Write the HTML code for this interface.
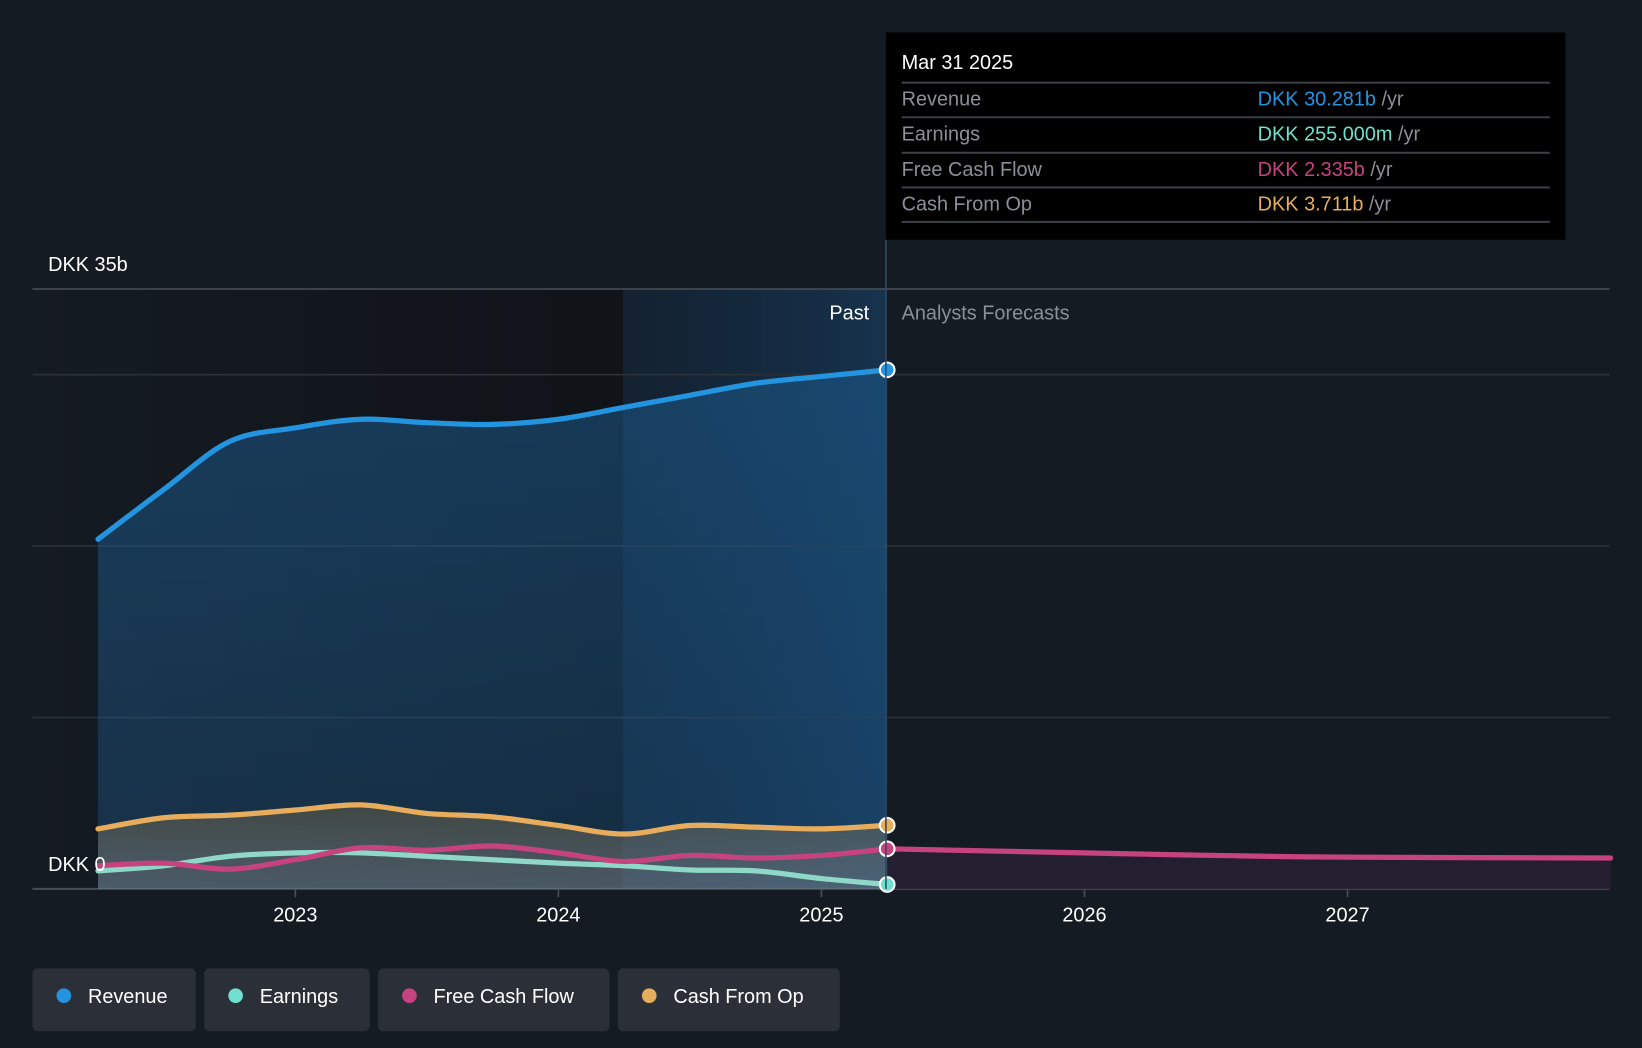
<!DOCTYPE html>
<html><head><meta charset="utf-8"><style>
html,body{margin:0;padding:0;background:#151b23;}
svg{display:block;font-family:"Liberation Sans",sans-serif;}
</style></head><body>
<svg id="chart" width="1642" height="1048" viewBox="0 0 1568 1001" preserveAspectRatio="none">
<defs>
<linearGradient id="pastGrad" x1="0" x2="1" y1="0" y2="0"><stop offset="0" stop-color="#13263a" stop-opacity="0.6"/><stop offset="1" stop-color="#163552" stop-opacity="0.9"/></linearGradient>
<linearGradient id="darkGrad" x1="0" x2="1" y1="0" y2="0"><stop offset="0" stop-color="#151b23"/><stop offset="1" stop-color="#101318"/></linearGradient>
<linearGradient id="revGrad" x1="0" x2="0" y1="0" y2="1"><stop offset="0" stop-color="#1c5a8c" stop-opacity="0.55"/><stop offset="1" stop-color="#1c5a8c" stop-opacity="0.35"/></linearGradient>
<linearGradient id="cfoGrad" x1="0" x2="0" y1="0" y2="1"><stop offset="0" stop-color="#6b6040" stop-opacity="0.5"/><stop offset="1" stop-color="#999" stop-opacity="0.4"/></linearGradient>
</defs>
<rect x="0" y="0" width="1568" height="1001" fill="#151b23"/>
<rect x="31" y="276" width="564" height="573" fill="url(#darkGrad)"/>
<rect x="595" y="276" width="251" height="573" fill="url(#pastGrad)"/>
<g id="grid"></g>
<g id="series"></g>
<line x1="846" y1="229" x2="846" y2="849" stroke="#2d4a66" stroke-width="1.5"/>
<text x="46" y="259" fill="#fff" font-size="19">DKK 35b</text>
<text x="46" y="832" fill="#fff" font-size="19">DKK 0</text>
<text x="830" y="305" fill="#fff" font-size="19" text-anchor="end">Past</text>
<text x="861" y="305" fill="#8a8f98" font-size="19">Analysts Forecasts</text>
<g id="xaxis"></g>
<g>
<rect x="846" y="31" width="649" height="198" fill="#000"/>
<text x="861" y="66" fill="#fff" font-size="19">Mar 31 2025</text>
<line x1="861" x2="1480" y1="79" y2="79" stroke="#3a3d42" stroke-width="2"/>
<text x="861" y="101" fill="#8a8f98" font-size="19">Revenue</text>
<text x="1201" y="101" font-size="19"><tspan fill="#2394df">DKK 30.281b</tspan><tspan fill="#8a8f98"> /yr</tspan></text>
<line x1="861" x2="1480" y1="112" y2="112" stroke="#3a3d42" stroke-width="2"/>
<text x="861" y="134" fill="#8a8f98" font-size="19">Earnings</text>
<text x="1201" y="134" font-size="19"><tspan fill="#6ee0cc">DKK 255.000m</tspan><tspan fill="#8a8f98"> /yr</tspan></text>
<line x1="861" x2="1480" y1="146" y2="146" stroke="#3a3d42" stroke-width="2"/>
<text x="861" y="168" fill="#8a8f98" font-size="19">Free Cash Flow</text>
<text x="1201" y="168" font-size="19"><tspan fill="#c7437f">DKK 2.335b</tspan><tspan fill="#8a8f98"> /yr</tspan></text>
<line x1="861" x2="1480" y1="179" y2="179" stroke="#3a3d42" stroke-width="2"/>
<text x="861" y="201" fill="#8a8f98" font-size="19">Cash From Op</text>
<text x="1201" y="201" font-size="19"><tspan fill="#e8ad5c">DKK 3.711b</tspan><tspan fill="#8a8f98"> /yr</tspan></text>
<line x1="861" x2="1480" y1="212" y2="212" stroke="#3a3d42" stroke-width="2"/>
</g>
<g>
<g><rect x="31" y="925" width="156" height="60" rx="5" fill="#2b2f38"/><circle cx="61" cy="951" r="7" fill="#2394df"/><text x="84" y="958" fill="#fff" font-size="19">Revenue</text></g>
<g><rect x="195" y="925" width="158" height="60" rx="5" fill="#2b2f38"/><circle cx="225" cy="951" r="7" fill="#6ee0cc"/><text x="248" y="958" fill="#fff" font-size="19">Earnings</text></g>
<g><rect x="361" y="925" width="221" height="60" rx="5" fill="#2b2f38"/><circle cx="391" cy="951" r="7" fill="#c7437f"/><text x="414" y="958" fill="#fff" font-size="19">Free Cash Flow</text></g>
<g><rect x="590" y="925" width="212" height="60" rx="5" fill="#2b2f38"/><circle cx="620" cy="951" r="7" fill="#e8ad5c"/><text x="643" y="958" fill="#fff" font-size="19">Cash From Op</text></g>
</g>
</svg>
<script>
const pastDates=[2022.25,2022.5,2022.75,2023.0,2023.25,2023.5,2023.75,2024.0,2024.25,2024.5,2024.75,2025.0,2025.25];
const revenue=[20.4,23.3,26.1,26.9,27.4,27.2,27.1,27.4,28.1,28.8,29.5,29.9,30.281];
const earnings=[1.05,1.35,1.9,2.1,2.1,1.9,1.7,1.5,1.35,1.1,1.05,0.6,0.255];
const fcf=[1.35,1.5,1.15,1.7,2.4,2.25,2.5,2.1,1.6,1.95,1.8,1.95,2.335];
const cfo=[3.5,4.15,4.3,4.6,4.9,4.4,4.2,3.7,3.2,3.7,3.6,3.5,3.711];
const fcfForecastDates=[2025.25,2026.0,2026.5,2027.0,2028.0];
const fcfForecast=[2.335,2.1,1.95,1.85,1.8];
const xTicks=[2023,2024,2025,2026,2027];
const yGrid=[0,10,20,30,35];
const NS='http://www.w3.org/2000/svg';
const X=d=>282+(d-2023)*251.2;
const Y=v=>849-v*16.37;
function mk(tag,attrs,parent){const e=document.createElementNS(NS,tag);for(const k in attrs)e.setAttribute(k,attrs[k]);parent.appendChild(e);return e;}
function curve(xs,ys){const p=xs.map((d,i)=>[X(d),Y(ys[i])]);let s='M'+p[0][0]+','+p[0][1];
 for(let i=0;i<p.length-1;i++){const p0=p[Math.max(0,i-1)],p1=p[i],p2=p[i+1],p3=p[Math.min(p.length-1,i+2)];
 const c1=[p1[0]+(p2[0]-p0[0])/6,p1[1]+(p2[1]-p0[1])/6],c2=[p2[0]-(p3[0]-p1[0])/6,p2[1]-(p3[1]-p1[1])/6];
 s+=' C'+c1[0]+','+c1[1]+' '+c2[0]+','+c2[1]+' '+p2[0]+','+p2[1];}return s;}
const grid=document.getElementById('grid');
yGrid.forEach(v=>{const l=mk('line',{x1:31,x2:1537,y1:Y(v),y2:Y(v),stroke:v===0||v===35?'#4a4f57':'#2c3138','stroke-width':v===0?2:1.5},grid);

});
const xa=document.getElementById('xaxis');
xTicks.forEach(t=>{const l=mk('line',{x1:X(t),x2:X(t),y1:849,y2:857,stroke:'#4a4f57','stroke-width':1.5},xa);


const tx=mk('text',{x:X(t),y:880,fill:'#fff','font-size':19,'text-anchor':'middle'},xa);tx.textContent=t;

});
const g=document.getElementById('series');
const x0=X(pastDates[0]),x1=X(pastDates[pastDates.length-1]);
function area(xs,ys,fill,name){const xa0=X(xs[0]),xa1=X(xs[xs.length-1]);const a=mk('path',{d:curve(xs,ys)+` L${xa1},849 L${xa0},849 Z`,fill:fill},g);

}
area(fcfForecastDates,fcfForecast,'#241f30','fcf-forecast-area');
area(pastDates,revenue,'url(#revGrad)','revenue-area');
area(pastDates,cfo,'url(#cfoGrad)','cash-from-op-area');
function line(xs,ys,color,name){const l=mk('path',{d:curve(xs,ys),fill:'none',stroke:color,'stroke-width':5,'stroke-linecap':'round'},g);

}
line(fcfForecastDates,fcfForecast,'#c7437f','free-cash-flow-forecast-line');
line(pastDates,cfo,'#e8ad5c','cash-from-op-line');
line(pastDates,earnings,'#8fd8c8','earnings-line');
line(pastDates,fcf,'#c7437f','free-cash-flow-line');
line(pastDates,revenue,'#2394df','revenue-line');
[[revenue,'#2394df','revenue-end-dot'],[cfo,'#e8ad5c','cash-from-op-end-dot'],[fcf,'#c7437f','fcf-end-dot'],[earnings,'#6ee0cc','earnings-end-dot']].forEach(([ys,c,n])=>{
const d=mk('circle',{cx:x1,cy:Y(ys[ys.length-1]),r:7,fill:c,stroke:'#fff','stroke-width':2},g);

});
</script>
</body></html>
